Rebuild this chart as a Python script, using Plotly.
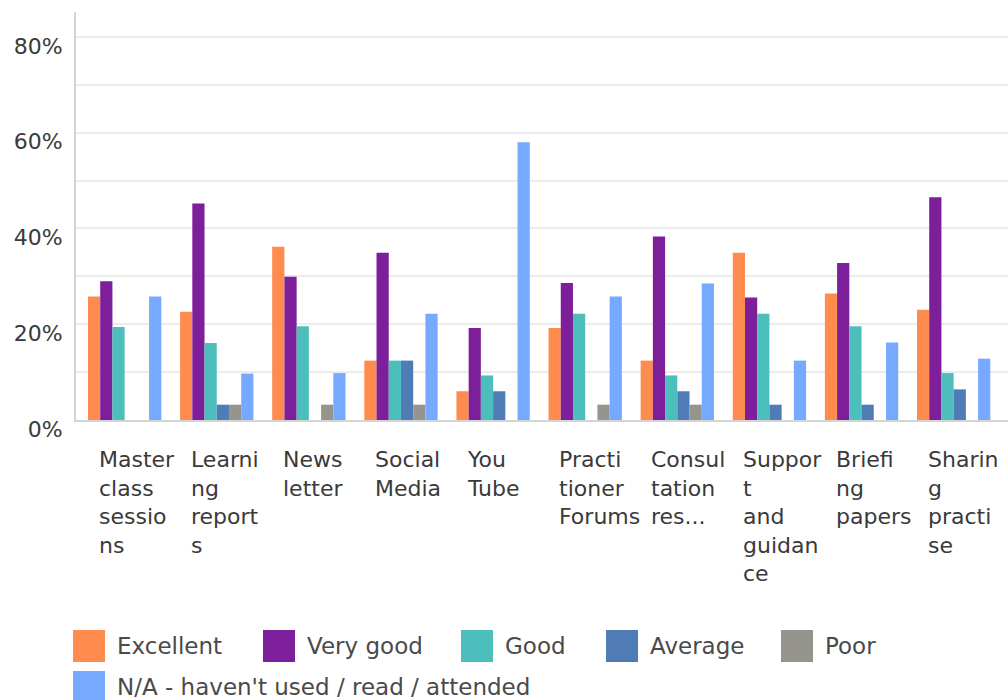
import plotly.graph_objects as go

categories = ["Master class sessions", "Learning reports", "News letter", "Social Media", "You Tube",
              "Practitioner Forums", "Consultation res...", "Support and guidance", "Briefing papers",
              "Sharing practise"]
category_labels = ["Master<br>class<br>sessio<br>ns", "Learni<br>ng<br>report<br>s", "News<br>letter",
                   "Social<br>Media", "You<br>Tube", "Practi<br>tioner<br>Forums", "Consul<br>tation<br>res...",
                   "Suppor<br>t<br>and<br>guidan<br>ce", "Briefi<br>ng<br>papers", "Sharin<br>g<br>practi<br>se"]

series_names = ["Excellent", "Very good", "Good", "Average", "Poor", "N/A - haven't used / read / attended"]
excellent = [25.8, 22.6, 36.2, 12.4, 6.0, 19.2, 12.4, 34.9, 26.4, 23.0]
very_good = [29.0, 45.2, 29.9, 34.9, 19.2, 28.6, 38.3, 25.6, 32.8, 46.5]
good      = [19.4, 16.1, 19.6, 12.4, 9.3, 22.2, 9.3, 22.2, 19.6, 9.8]
average   = [0, 3.2, 0, 12.4, 6.0, 0, 6.0, 3.2, 3.2, 6.4]
poor      = [0, 3.2, 3.2, 3.2, 0, 3.2, 3.2, 0, 0, 0]
na        = [25.8, 9.7, 9.8, 22.2, 58.0, 25.8, 28.5, 12.4, 16.2, 12.8]
series_values = [excellent, very_good, good, average, poor, na]

y_tick_values = [0, 20, 40, 60, 80]
y_tick_labels = ["0%", "20%", "40%", "60%", "80%"]

colors = ["#FF8B4F", "#7D1F9A", "#4CBFBD", "#507CB5", "#96958D", "#76A9FF"]

FONT = "DejaVu Sans"
FS = 22
LEG_FS = 23
TEXT = "#3a3a3a"

fig = go.Figure()
for name, vals, col in zip(series_names, series_values, colors):
    fig.add_trace(go.Bar(x=categories, y=vals, name=name, marker=dict(color=col, line=dict(width=0)),
                         showlegend=False))

# layout geometry (pixels)
L, R, T, B = 76, 0, 12, 280
W, H = 1008, 700
pw, ph = W - L - R, H - T - B

def px_to_paper_x(px):
    return (px - L) / pw

def px_to_paper_y(py):
    return (H - B - py) / ph

annotations = []
for cat, lab in zip(categories, category_labels):
    annotations.append(dict(x=cat, xref="x", y=0, yref="paper", text=lab, showarrow=False,
                            xanchor="left", yanchor="top", align="left", xshift=-28, yshift=-25,
                            font=dict(family=FONT, size=FS, color=TEXT)))

# custom legend (large swatches)
legend_pos = [(73, 630), (263, 630), (461, 630), (606, 630), (781, 630), (73, 671)]
shapes = []
sw = 32
for (lx, ly), name, col in zip(legend_pos, series_names, colors):
    shapes.append(dict(type="rect", xref="paper", yref="paper",
                       x0=px_to_paper_x(lx), x1=px_to_paper_x(lx + sw),
                       y0=px_to_paper_y(ly), y1=px_to_paper_y(ly + sw),
                       fillcolor=col, line=dict(width=0)))
    annotations.append(dict(x=px_to_paper_x(lx + 42), y=px_to_paper_y(ly + sw / 2), xref="paper", yref="paper",
                            text=name, showarrow=False, xanchor="left", yanchor="middle",
                            font=dict(family=FONT, size=LEG_FS, color="#4a4a4a")))

fig.update_layout(
    width=W, height=H,
    margin=dict(l=L, r=R, t=T, b=B, autoexpand=False),
    paper_bgcolor="white", plot_bgcolor="white",
    barmode="group", bargap=0.204, bargroupgap=0,
    font=dict(family=FONT, size=FS, color=TEXT),
    xaxis=dict(range=[-0.528, 9.59], showticklabels=False, showline=True, linecolor="#d4d4d4",
               linewidth=2, showgrid=False, zeroline=False, ticks=""),
    yaxis=dict(range=[0, 85.2], tickvals=y_tick_values, ticktext=y_tick_labels,
               showline=True, linecolor="#d4d4d4", linewidth=2,
               showgrid=True, gridcolor="#ececec", gridwidth=2, zeroline=False, ticks="",
               ticklabelposition="outside", ticklabelshift=9, ticklabelstandoff=7,
               tickfont=dict(family=FONT, size=FS, color=TEXT),
               minor=dict(dtick=10, tick0=0, showgrid=True, gridcolor="#ececec", gridwidth=2)),
    annotations=annotations,
    shapes=shapes,
    showlegend=False,
)

fig.write_html("out.html")
